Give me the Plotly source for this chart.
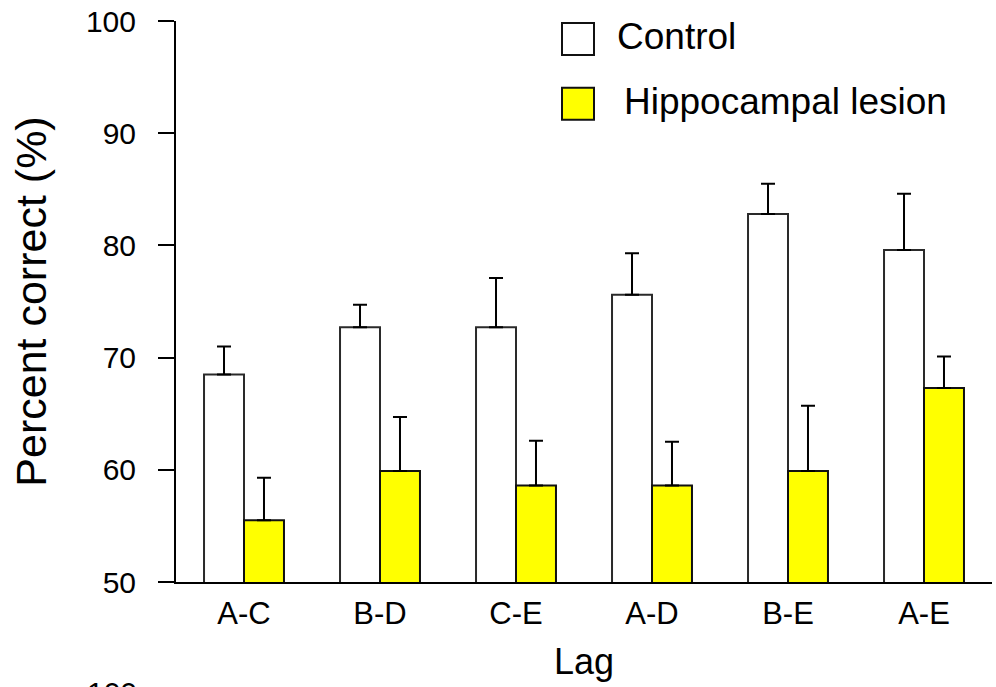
import plotly.graph_objects as go

# ---- data ----
lags = ["A-C", "B-D", "C-E", "A-D", "B-E", "A-E"]
control_mean = [68.5, 72.7, 72.7, 75.6, 82.8, 79.6]
control_err = [2.5, 2.0, 4.4, 3.7, 2.7, 5.0]
lesion_mean = [55.5, 59.9, 58.6, 58.6, 59.9, 67.3]
lesion_err = [3.8, 4.8, 4.0, 3.9, 5.8, 2.8]
y_ticks = [50, 60, 70, 80, 90, 100]

FONT = "Arial, 'Liberation Sans', Helvetica, sans-serif"

W, H = 996, 687
L, R, T, B = 176, 4, 19, 105
PW, PH = W - L - R, H - T - B


def px(x):
    return (x - L) / PW


def py(y):
    return (H - B - y) / PH


fig = go.Figure()
fig.add_trace(go.Bar(
    x=lags, y=control_mean, name="Control",
    marker=dict(color="white", line=dict(color="#2a2a2a", width=2)),
    error_y=dict(type="data", symmetric=False, array=control_err,
                 arrayminus=[0] * len(lags), color="black", thickness=2, width=7),
    showlegend=False,
))
fig.add_trace(go.Bar(
    x=lags, y=lesion_mean, name="Hippocampal lesion",
    marker=dict(color="#FFFF00", line=dict(color="#111111", width=2)),
    error_y=dict(type="data", symmetric=False, array=lesion_err,
                 arrayminus=[0] * len(lags), color="black", thickness=2, width=7),
    showlegend=False,
))

# legend drawn manually (keys + labels)
legend_items = [("Control", "white", 21, 53, 615, 35), ("Hippocampal lesion", "#FFFF00", 86, 118, 622, 100)]
shapes = []
annotations = []
for label, col, y0, y1, tx, ty in legend_items:
    shapes.append(dict(type="rect", xref="paper", yref="paper",
                       x0=px(562), x1=px(594), y0=py(y1), y1=py(y0),
                       fillcolor=col, line=dict(color="#111111", width=2)))
    annotations.append(dict(text=label, xref="paper", yref="paper",
                            x=px(tx), y=py(ty), xanchor="left", yanchor="middle",
                            showarrow=False, font=dict(size=37, color="black", family=FONT)))

# partial tick label of the next panel, cut by the bottom edge
annotations.append(dict(text="100", xref="paper", yref="paper", x=px(139), y=py(674),
                        xanchor="right", yanchor="top", showarrow=False,
                        font=dict(size=30, color="black", family=FONT)))

fig.update_layout(
    width=W, height=H,
    margin=dict(l=L, r=R, t=T, b=B, pad=0),
    paper_bgcolor="white", plot_bgcolor="white",
    barmode="group", bargap=0.412, bargroupgap=0,
    font=dict(family=FONT, color="black"),
    shapes=shapes, annotations=annotations,
)
fig.update_xaxes(
    range=[-0.5, 5.5], showline=True, linecolor="black", linewidth=2,
    ticks="", showgrid=False, zeroline=False,
    tickfont=dict(size=31, family=FONT, color="black"),
    ticklabelstandoff=3,
    title=dict(text="Lag", font=dict(size=36, family=FONT, color="black"), standoff=19),
)
fig.update_yaxes(
    range=[50, 100], tickvals=y_ticks, ticktext=[str(v) for v in y_ticks],
    showline=True, linecolor="black", linewidth=2,
    ticks="outside", ticklen=16, tickwidth=2, tickcolor="black",
    showgrid=False, zeroline=False,
    tickfont=dict(size=30, family=FONT, color="black"),
    ticklabelstandoff=16,
    title=dict(text="Percent correct (%)", font=dict(size=43, family=FONT, color="black"), standoff=26),
)

fig.write_html("out.html")
